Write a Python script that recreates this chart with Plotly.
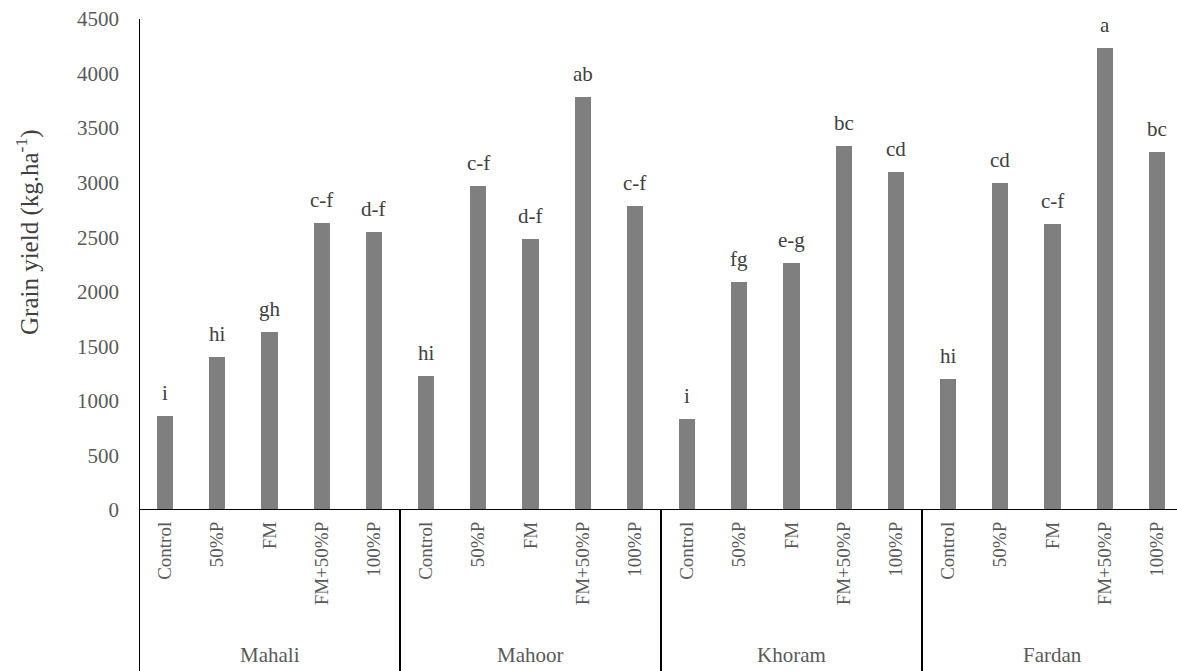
import plotly.graph_objects as go

# Grain yield by cultivar and fertiliser treatment
cultivars = ["Mahali", "Mahoor", "Khoram", "Fardan"]
treatments = ["Control", "50%P", "FM", "FM+50%P", "100%P"]

mahali = [863, 1398, 1627, 2627, 2547]
mahoor = [1228, 2968, 2488, 3782, 2788]
khoram = [838, 2092, 2262, 3339, 3101]
fardan = [1203, 2998, 2624, 4237, 3280]

letters_mahali = ["i", "hi", "gh", "c-f", "d-f"]
letters_mahoor = ["hi", "c-f", "d-f", "ab", "c-f"]
letters_khoram = ["i", "fg", "e-g", "bc", "cd"]
letters_fardan = ["hi", "cd", "c-f", "a", "bc"]

y_ticks = [0, 500, 1000, 1500, 2000, 2500, 3000, 3500, 4000, 4500]

series = [mahali, mahoor, khoram, fardan]
letter_sets = [letters_mahali, letters_mahoor, letters_khoram, letters_fardan]

values = [v for s in series for v in s]
letters = [l for s in letter_sets for l in s]
labels = treatments * len(cultivars)
xpos = list(range(len(values)))

FONT = "Liberation Serif, Times New Roman, serif"
GREY_TXT = "#595959"

fig = go.Figure()
fig.add_trace(go.Bar(
    x=xpos, y=values, width=0.31,
    marker=dict(color="#7f7f7f", line=dict(width=0)),
    hoverinfo="skip", showlegend=False,
))

W, H = 1177, 671
ML, MR, MT, MB = 139, 0, 19, 161
plot_w = W - ML - MR
plot_h = H - MT - MB
cat_px = 52.2
x_hi = -0.5 + plot_w / cat_px

fig.update_layout(
    width=W, height=H,
    margin=dict(l=ML, r=MR, t=MT, b=MB, pad=0),
    paper_bgcolor="white", plot_bgcolor="white",
    font=dict(family=FONT, color=GREY_TXT),
    bargap=0,
    xaxis=dict(
        range=[-0.5, x_hi], tickmode="array", tickvals=xpos, ticktext=labels,
        tickangle=-90, showgrid=False, zeroline=False, showline=False,
        ticks="", tickfont=dict(family=FONT, size=19, color=GREY_TXT),
        ticklabelstandoff=7,
    ),
    yaxis=dict(
        range=[0, 4500], tickmode="array", tickvals=y_ticks,
        showgrid=False, zeroline=False, showline=False, ticks="",
        tickfont=dict(family=FONT, size=21, color=GREY_TXT),
        ticklabelstandoff=19,
    ),
)

below = -MB / plot_h

shapes = []
# baseline
shapes.append(dict(type="line", xref="paper", yref="y", x0=0, x1=1, y0=0, y1=0,
                   line=dict(color="black", width=2)))
# left axis line, running down through the category label area
shapes.append(dict(type="line", xref="x", yref="paper", x0=-0.5, x1=-0.5, y0=below, y1=1,
                   line=dict(color="black", width=2)))
# separators between cultivar groups
for g in range(1, len(cultivars)):
    xb = g * len(treatments) - 0.5
    shapes.append(dict(type="line", xref="x", yref="paper", x0=xb, x1=xb, y0=below, y1=0,
                       line=dict(color="black", width=2)))
fig.update_layout(shapes=shapes)

ann = []
for x, v, l in zip(xpos, values, letters):
    ann.append(dict(x=x, y=v, xref="x", yref="y", text=l, showarrow=False,
                    yanchor="bottom", yshift=9,
                    font=dict(family=FONT, size=21, color="#404040")))
for g, name in enumerate(cultivars):
    xc = g * len(treatments) + (len(treatments) - 1) / 2
    ann.append(dict(x=xc, y=(510 - 655) / plot_h, xref="x", yref="paper", text=name,
                    showarrow=False, yanchor="middle",
                    font=dict(family=FONT, size=21, color=GREY_TXT)))
ann.append(dict(x=(27 - ML) / plot_w, y=(510 - 232) / plot_h, xref="paper", yref="paper",
                text="Grain yield (kg.ha<sup>-1</sup>)", textangle=-90, showarrow=False,
                xanchor="center", yanchor="middle",
                font=dict(family=FONT, size=25, color="#404040")))
fig.update_layout(annotations=ann)

fig.write_html("out.html")
